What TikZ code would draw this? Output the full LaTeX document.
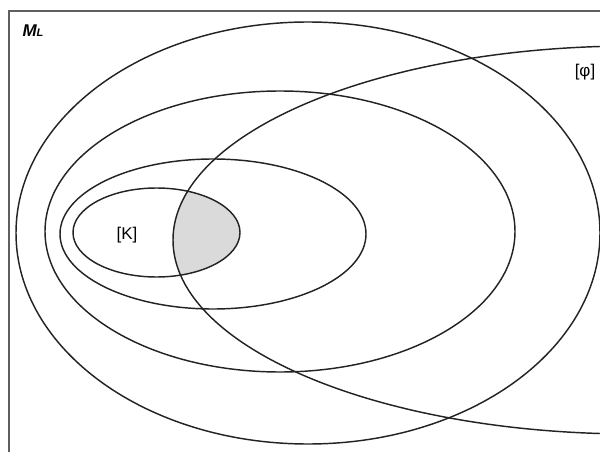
\documentclass[tikz,border=0pt]{standalone}
\usepackage{fontspec}
\setmainfont{Liberation Sans}
\definecolor{venngray}{RGB}{218,218,218}
\definecolor{setblack}{RGB}{35,35,35}
\definecolor{framegray}{RGB}{95,95,95}

\begin{document}
\begin{tikzpicture}[x=1pt, y=-1pt,
    set/.style={draw=setblack, line width=1.45pt},
    frame/.style={draw=framegray, line width=1.6pt},
    setlabel/.style={font=\fontsize{17}{17}\selectfont, inner sep=0pt, text=black}
]
\useasboundingbox (0,0) rectangle (600,452);
\clip (0,0) rectangle (600,452);
% frame of the model class
\draw[frame] (9,11) rectangle (620,470);
% shaded part: [K] inside [phi]
\begin{scope}
    \clip (156.5,232.5) ellipse (83.5pt and 44.5pt);
    \fill[venngray] (633,240) ellipse (460pt and 194pt);
\end{scope}
% nested sets
\draw[set] (308,233) ellipse (292pt and 211pt);
\draw[set] (280,231.5) ellipse (235pt and 140.5pt);
\draw[set] (213,234) ellipse (153pt and 75pt);
\draw[set] (156.5,232.5) ellipse (83.5pt and 44.5pt);
% the set [phi]
\draw[set] (633,240) ellipse (460pt and 194pt);
% labels
\node[setlabel] (ml) at (33,31) {\bfseries\itshape M{\fontsize{11}{11}\selectfont L}};
\node[setlabel] (k) at (127,235) {[K]};
\node[setlabel] (phi) at (585,72) {[φ]};
\end{tikzpicture}
\end{document}
